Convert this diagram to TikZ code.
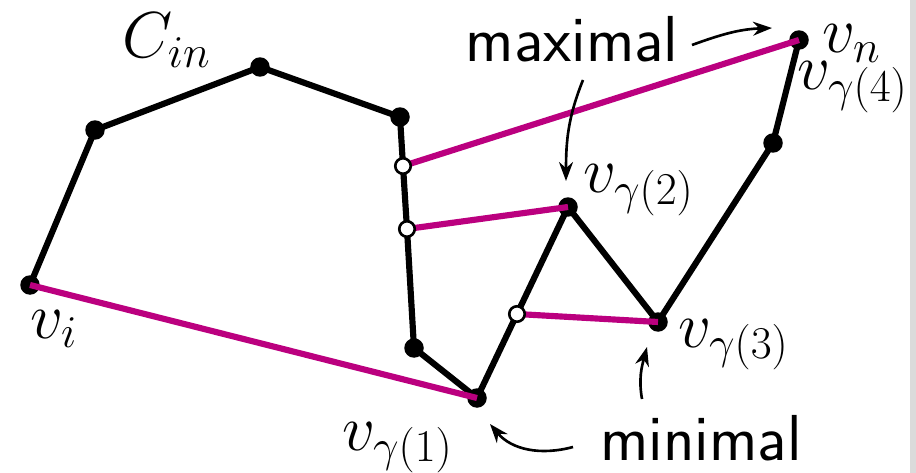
\RequirePackage{fix-cm}
\documentclass[tikz,border=0pt]{standalone}
\usepackage{fontspec}
\usetikzlibrary{arrows.meta}
\definecolor{chordmag}{RGB}{187,0,127}

\begin{document}
\begin{tikzpicture}[x=0.02cm, y=-0.02cm,
                    edge/.style={draw, line width=3.5pt, line join=round},
                    chord/.style={draw=chordmag, line width=3.5pt},
                    vtx/.style={circle, fill=black, inner sep=0pt, minimum size=0.39cm},
                    hollow/.style={circle, draw=black, fill=white, line width=1.5pt, inner sep=0pt, minimum size=0.31cm},
                    lbl/.style={inner sep=0pt, anchor=base west, font=\fontsize{37}{44}\selectfont},
                    word/.style={inner sep=0pt, anchor=base, font=\fontsize{37}{44}\selectfont\sffamily},
                    pointer/.style={draw, line width=1.5pt, -{Stealth[length=0.38cm, width=0.28cm]}}
                ]
                    \useasboundingbox (0,0) rectangle (916,473);
                    \fill[black!14] (910,0) rectangle (916,473);

                    % Place vertices
                    \coordinate (vi) at (30,285);
                    \coordinate (c1) at (95,130);
                    \coordinate (c2) at (260,67);
                    \coordinate (c3) at (400,117);
                    \coordinate (h1) at (403,166);
                    \coordinate (h2) at (407,229);
                    \coordinate (c4) at (414,348);
                    \coordinate (g1) at (477,398);
                    \coordinate (h3) at (517,314);
                    \coordinate (g2) at (568,207);
                    \coordinate (g3) at (658,322);
                    \coordinate (c5) at (773,143);
                    \coordinate (vn) at (799,40);

                    % Draw the chain
                    \path [edge] (vi) -- (c1) -- (c2) -- (c3) -- (h1) -- (h2) -- (c4) -- (g1)
                                 -- (h3) -- (g2) -- (g3) -- (c5) -- (vn);
                    \foreach \v in {vi, c1, c2, c3, c4, g1, g2, g3, c5, vn}
                        \node [vtx] at (\v) {};

                    % Draw chords
                    \path [chord] (vi) -- (g1);
                    \path [chord] (h1) -- (vn);
                    \path [chord] (h2) -- (g2);
                    \path [chord] (h3) -- (g3);
                    \foreach \v in {h1, h2, h3}
                        \node [hollow] at (\v) {};

                    % Labels
                    \node [lbl] (cin) at (122,58) {$C_{in}$};
                    \node [lbl] (lvi) at (30,338) {$v_i$};
                    \node [lbl] (lvn) at (822,53) {$v_n$};
                    \node [lbl] (lg4) at (797,90) {$v_{\gamma(4)}$};
                    \node [lbl] (lg2) at (583,193) {$v_{\gamma(2)}$};
                    \node [lbl] (lg3) at (678,347) {$v_{\gamma(3)}$};
                    \node [lbl] (lg1) at (342,450) {$v_{\gamma(1)}$};
                    \node [word] (maximal) at (572,62) {maximal};
                    \node [word] (minimal) at (701,460) {minimal};

                    % Pointers
                    \coordinate (mx1) at (692,45);
                    \coordinate (mx1t) at (772,28);
                    \coordinate (mx2) at (583,80);
                    \coordinate (mx2t) at (566,181);
                    \coordinate (mn1) at (573,447);
                    \coordinate (mn1t) at (490,424);
                    \coordinate (mn2) at (642,399);
                    \coordinate (mn2t) at (647,347);
                    \path [pointer] (mx1) to [out=20, in=182] (mx1t);
                    \path [pointer] (mx2) to [out=-112, in=90] (mx2t);
                    \path [pointer] (mn1) to [out=195, in=-50] (mn1t);
                    \path [pointer] (mn2) to [out=100, in=-105] (mn2t);
            \end{tikzpicture}
\end{document}
